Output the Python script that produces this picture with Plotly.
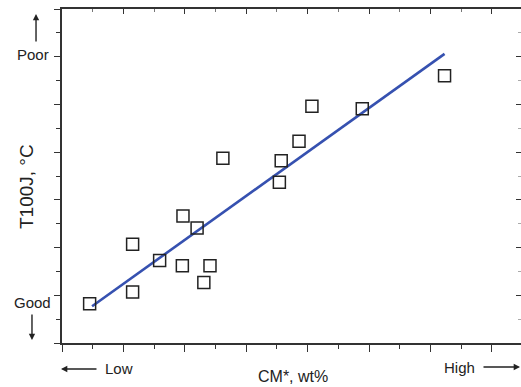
import plotly.graph_objects as go

# Measured samples: carbon-equivalent content (relative scale) vs. T100J
cm_values = [0.45, 1.15, 1.15, 1.59, 1.97, 1.96, 2.20, 2.31, 2.41, 2.62,
             3.54, 3.57, 3.86, 4.07, 4.89, 6.23]
t100j_values = [0.82, 2.07, 1.07, 1.73, 2.66, 1.62, 2.41, 1.27, 1.62, 3.87,
                3.37, 3.82, 4.23, 4.96, 4.91, 5.60]

# Linear trend line end points
fit_x = [0.49, 6.23]
fit_y = [0.77, 6.06]

AXIS = "#333333"
TEXT = "#222222"
FONT = "Liberation Sans, Arial, sans-serif"

fig = go.Figure()

fig.add_trace(go.Scatter(
    x=fit_x, y=fit_y, mode="lines",
    line=dict(color="#3651b0", width=2.6),
    hoverinfo="skip", showlegend=False,
))
fig.add_trace(go.Scatter(
    x=cm_values, y=t100j_values, mode="markers",
    marker=dict(symbol="square-open", size=12, color="#222222",
                line=dict(width=1.5, color="#222222")),
    showlegend=False,
))
# Anchor trace so the mirrored top/right axes are drawn
fig.add_trace(go.Scatter(
    x=[0], y=[0], xaxis="x2", yaxis="y2", mode="markers",
    marker=dict(opacity=0), hoverinfo="skip", showlegend=False,
))

fig.update_layout(
    width=521, height=387,
    margin=dict(l=62, r=0, t=9, b=44),
    paper_bgcolor="white", plot_bgcolor="white",
    font=dict(family=FONT, color=TEXT),
    xaxis=dict(
        range=[0, 7.475], tick0=0, dtick=1,
        ticks="outside", ticklen=7, tickwidth=1.3, tickcolor=AXIS,
        minor=dict(dtick=0.5, ticks="outside", ticklen=4, tickwidth=1.2, tickcolor=AXIS),
        showticklabels=False, showgrid=False, zeroline=False,
        showline=True, linecolor=AXIS, linewidth=1.6,
    ),
    xaxis2=dict(
        overlaying="x", side="top", matches="x", anchor="y",
        range=[0, 7.475], tick0=0, dtick=1,
        ticks="inside", ticklen=5, tickwidth=1.2, tickcolor=AXIS,
        minor=dict(dtick=0.5, ticks="inside", ticklen=3, tickwidth=1, tickcolor="#777777"),
        showticklabels=False, showgrid=False, zeroline=False,
        showline=True, linecolor=AXIS, linewidth=1.6,
    ),
    yaxis=dict(
        range=[0, 7], tick0=0, dtick=1,
        ticks="outside", ticklen=6, tickwidth=1.3, tickcolor=AXIS,
        minor=dict(dtick=0.5, ticks="outside", ticklen=4, tickwidth=1.2, tickcolor=AXIS),
        showticklabels=False, showgrid=False, zeroline=False,
        showline=True, linecolor=AXIS, linewidth=1.6,
    ),
    yaxis2=dict(
        overlaying="y", side="right", matches="y", anchor="x",
        range=[0, 7], tick0=0, dtick=1,
        ticks="inside", ticklen=5, tickwidth=1.2, tickcolor=AXIS,
        minor=dict(dtick=0.5, ticks="inside", ticklen=3, tickwidth=1, tickcolor="#aaaaaa"),
        showticklabels=False, showgrid=False, zeroline=False, showline=False,
    ),
)

labels = [
    dict(text="Poor", x=-0.024, y=0.864, xanchor="right", yanchor="middle", size=15),
    dict(text="Good", x=-0.0196, y=0.121, xanchor="right", yanchor="middle", size=15),
    dict(text="Low", x=0.0893, y=-0.0778, xanchor="left", yanchor="middle", size=15),
    dict(text="High", x=0.904, y=-0.0719, xanchor="right", yanchor="middle", size=15),
    dict(text="CM*, wt%", x=0.503, y=-0.101, xanchor="center", yanchor="middle", size=16),
]
for lab in labels:
    fig.add_annotation(
        text=lab["text"], x=lab["x"], y=lab["y"], xref="paper", yref="paper",
        xanchor=lab["xanchor"], yanchor=lab["yanchor"], showarrow=False,
        font=dict(size=lab["size"], color=TEXT, family=FONT),
    )

fig.add_annotation(
    text="T100J, °C", x=-0.0784, y=0.467, xref="paper", yref="paper",
    textangle=-90, showarrow=False, xanchor="center", yanchor="middle",
    font=dict(size=19, color=TEXT, family=FONT),
)

# Direction arrows: (head x, head y, tail dx, tail dy) in paper / pixel units
arrows = [
    (-0.0566, 0.985, 0, 29),
    (-0.0654, 0.009, 0, -27),
    (-0.0022, -0.0778, 37, 0),
    (0.9978, -0.0719, -38, 0),
]
for hx, hy, dx, dy in arrows:
    fig.add_annotation(
        text="", x=hx, y=hy, xref="paper", yref="paper",
        ax=dx, ay=dy, axref="pixel", ayref="pixel",
        showarrow=True, arrowhead=2, arrowsize=0.9, arrowwidth=1.4,
        arrowcolor=TEXT,
    )

fig.write_html("out.html")
